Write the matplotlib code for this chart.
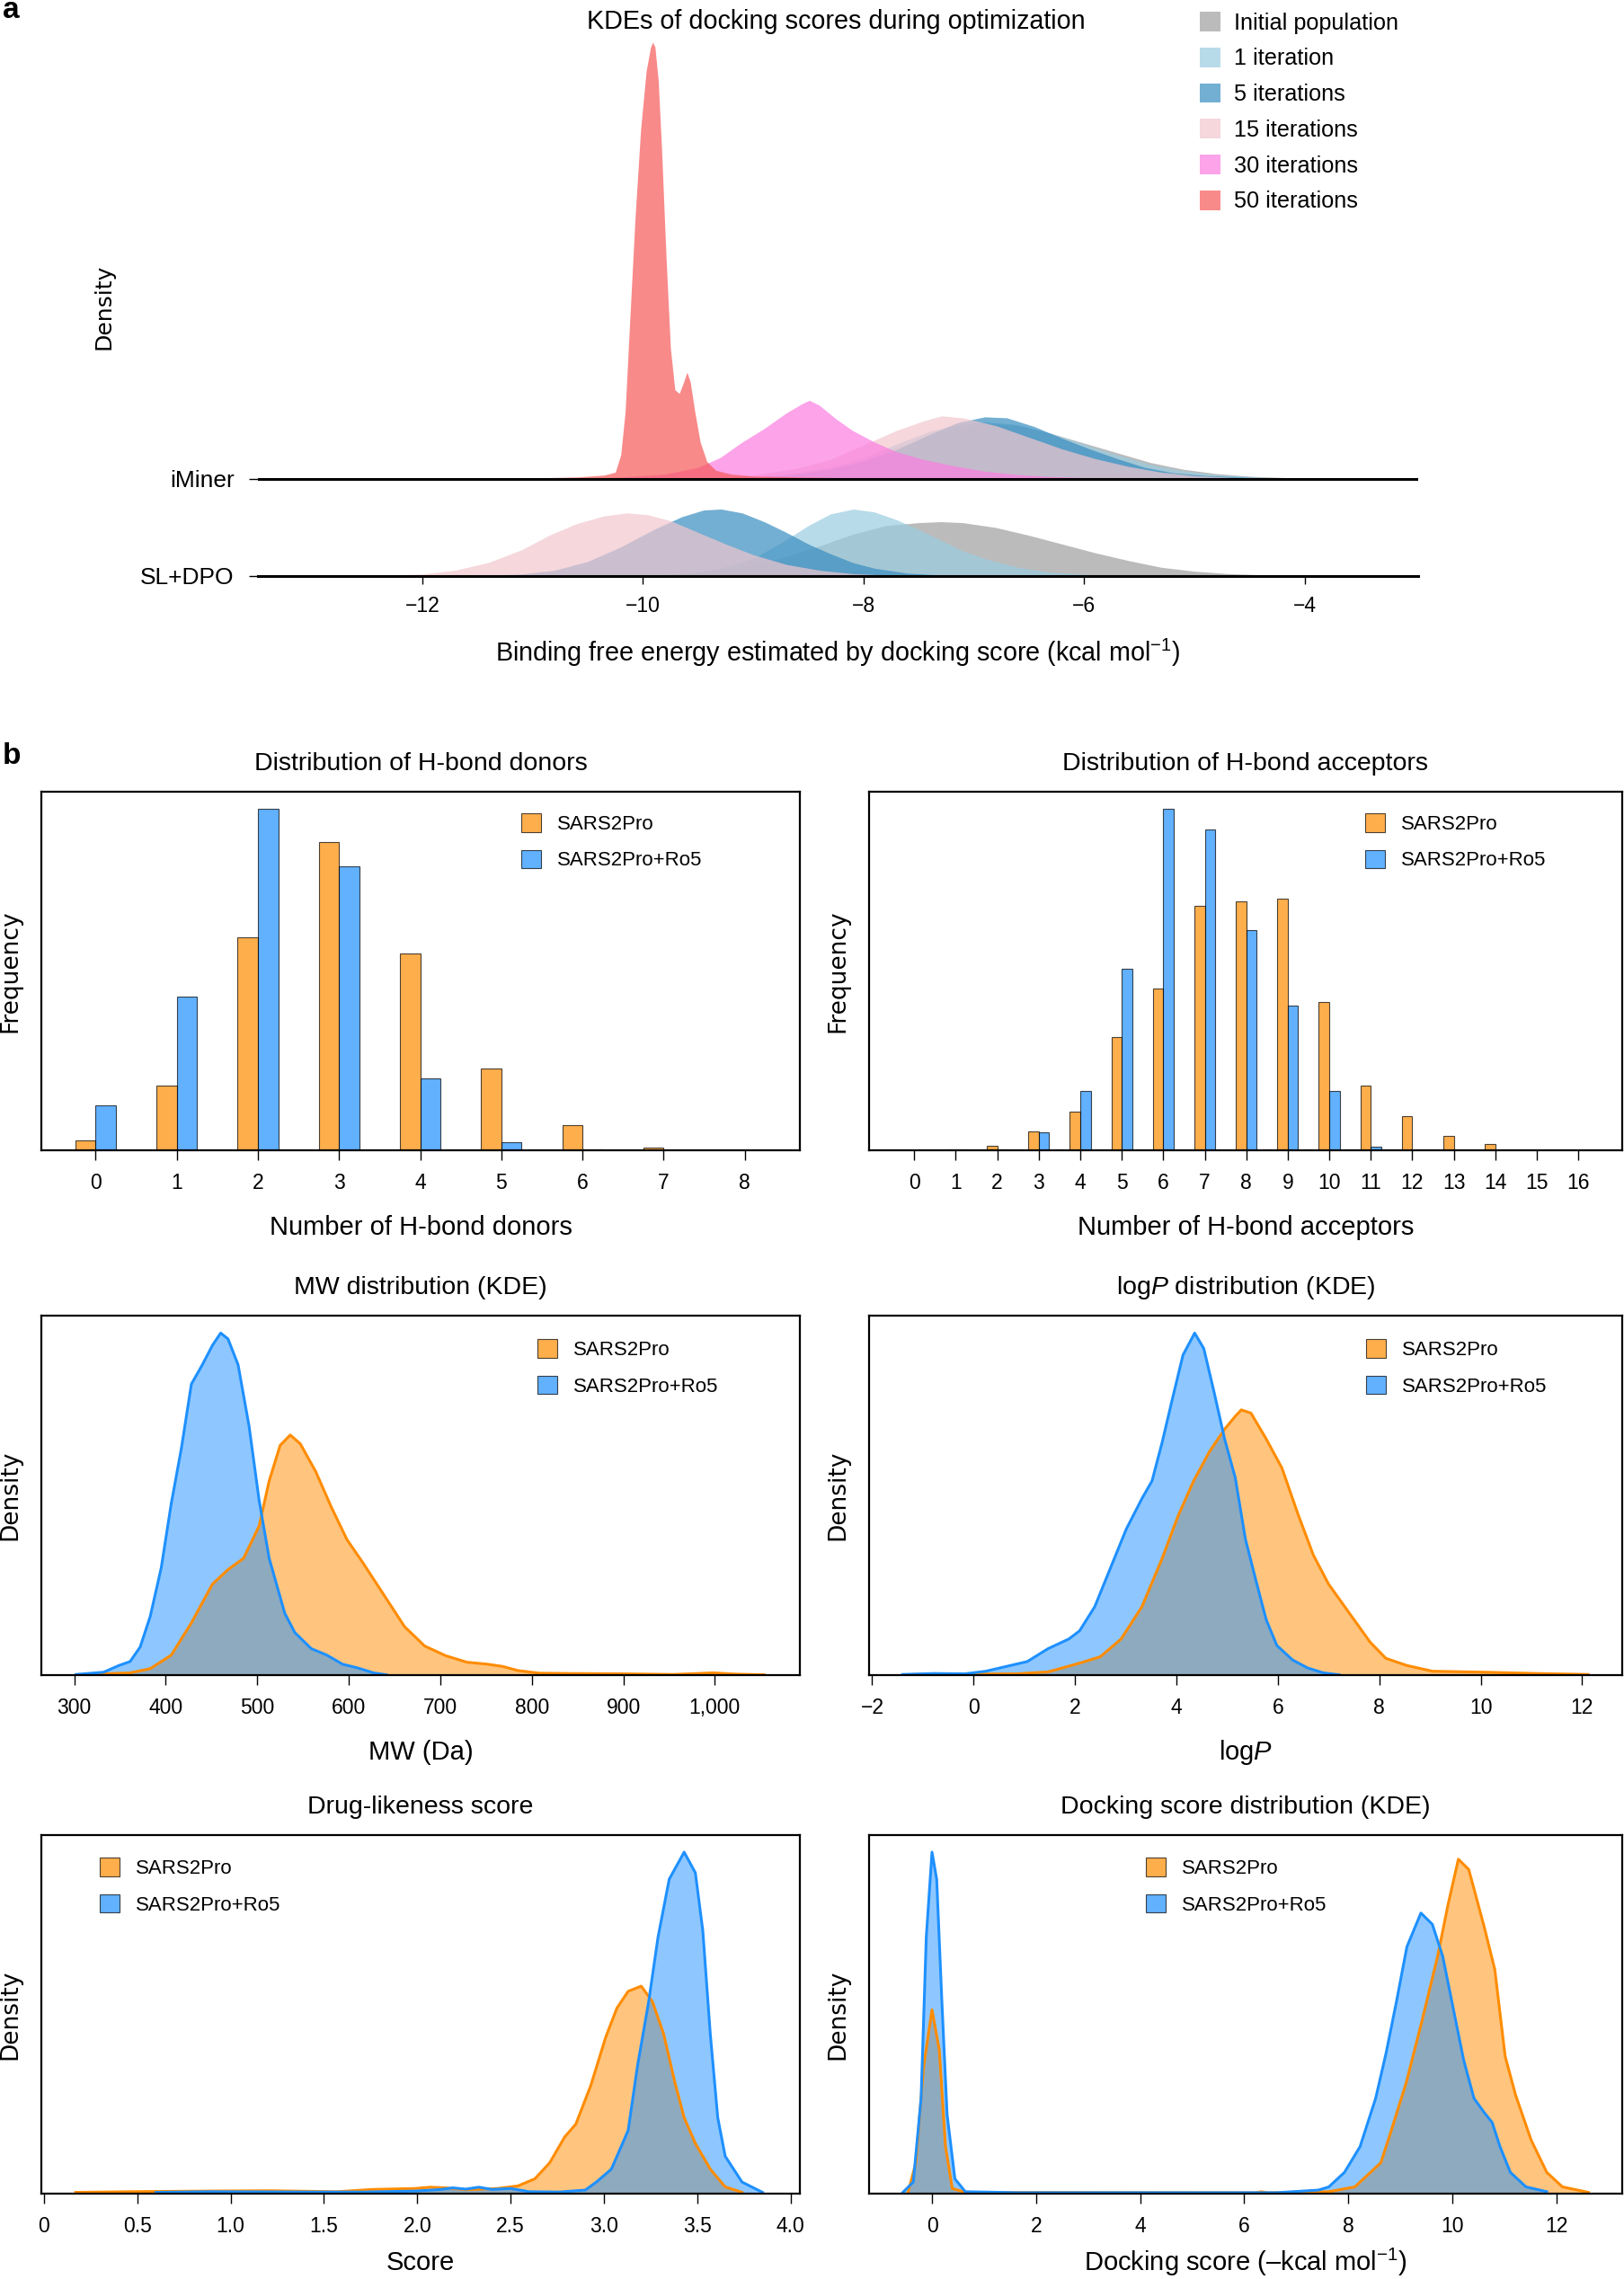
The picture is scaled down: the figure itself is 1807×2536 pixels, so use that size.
import matplotlib
matplotlib.use("Agg")
import matplotlib.pyplot as plt
from matplotlib.patches import Patch
import numpy as np

plt.rcParams['font.family'] = ['Liberation Sans', 'DejaVu Sans']
plt.rcParams['mathtext.fontset'] = 'custom'
plt.rcParams['mathtext.rm'] = 'Liberation Sans'
plt.rcParams['mathtext.it'] = 'Liberation Sans:italic'

# ---------------- panel a data (ridge heights, one row = 1 unit) ----------------
a_labels = ['Initial population', '1 iteration', '5 iterations',
            '15 iterations', '30 iterations', '50 iterations']
a_colors = ['#9e9e9e', '#9acde1', '#388dc0', '#f1c6ce', '#fc7de1', '#f65858']

# iMiner row
im_gray_x = [-9.2, -8.7, -8.3, -8.0, -7.7, -7.4, -7.1, -6.85, -6.6, -6.3, -6.0, -5.7, -5.4, -5.1, -4.8, -4.5, -4.1, -3.7]
im_gray_h = [0.0, 0.04, 0.1, 0.19, 0.32, 0.45, 0.54, 0.57, 0.55, 0.47, 0.37, 0.27, 0.17, 0.1, 0.055, 0.028, 0.01, 0.0]
im_lb_x = [-9.2, -8.7, -8.3, -8.0, -7.7, -7.4, -7.1, -6.9, -6.6, -6.3, -6.0, -5.7, -5.4, -5.1, -4.8, -4.4, -3.9]
im_lb_h = [0.0, 0.05, 0.12, 0.22, 0.36, 0.49, 0.57, 0.59, 0.56, 0.47, 0.36, 0.25, 0.15, 0.085, 0.045, 0.018, 0.0]
im_blue_x = [-9.2, -8.7, -8.3, -8.0, -7.7, -7.4, -7.15, -6.9, -6.7, -6.45, -6.2, -5.95, -5.7, -5.45, -5.2, -4.9, -4.5, -4.1, -3.7]
im_blue_h = [0.0, 0.04, 0.1, 0.18, 0.3, 0.46, 0.58, 0.64, 0.63, 0.54, 0.42, 0.31, 0.21, 0.12, 0.065, 0.035, 0.016, 0.006, 0.0]
im_pink_x = [-9.4, -9.0, -8.6, -8.3, -8.0, -7.7, -7.45, -7.29, -7.1, -6.8, -6.5, -6.2, -5.9, -5.6, -5.3, -5.0, -4.6, -4.0]
im_pink_h = [0.0, 0.04, 0.11, 0.2, 0.35, 0.5, 0.6, 0.65, 0.63, 0.55, 0.43, 0.31, 0.21, 0.13, 0.07, 0.035, 0.012, 0.0]
im_mag_x = [-10.8, -10.2, -9.8, -9.5, -9.3, -9.1, -8.9, -8.7, -8.55, -8.49, -8.4, -8.25, -8.1, -7.9, -7.7, -7.45, -7.2, -6.9, -6.6, -6.3, -5.9, -5.4]
im_mag_h = [0.0, 0.02, 0.05, 0.12, 0.22, 0.38, 0.52, 0.68, 0.78, 0.81, 0.76, 0.62, 0.5, 0.38, 0.28, 0.2, 0.14, 0.08, 0.045, 0.025, 0.01, 0.0]
im_red_x = [-11.6, -11.0, -10.6, -10.35, -10.25, -10.2, -10.16, -10.12, -10.07, -10.02, -9.97, -9.93, -9.91, -9.89,
            -9.86, -9.83, -9.79, -9.75, -9.71, -9.67, -9.63, -9.60, -9.57, -9.53, -9.48, -9.42, -9.34, -9.2, -9.0,
            -8.6, -8.0, -7.2]
im_red_h = [0.0, 0.01, 0.02, 0.04, 0.07, 0.25, 0.7, 1.6, 2.7, 3.6, 4.2, 4.45, 4.5, 4.45,
            4.1, 3.4, 2.3, 1.35, 0.92, 0.88, 1.0, 1.1, 1.0, 0.7, 0.38, 0.18, 0.09, 0.05, 0.03,
            0.02, 0.01, 0.0]

# SL+DPO row
sl_gray_x = [-10.2, -9.7, -9.3, -9.0, -8.7, -8.4, -8.1, -7.8, -7.5, -7.3, -7.1, -6.8, -6.5, -6.2, -5.9, -5.6, -5.3, -5.0, -4.7, -4.3, -3.9]
sl_gray_h = [0.0, 0.02, 0.06, 0.12, 0.2, 0.31, 0.43, 0.52, 0.55, 0.56, 0.55, 0.5, 0.42, 0.33, 0.24, 0.16, 0.09, 0.05, 0.025, 0.008, 0.0]
sl_lb_x = [-10.0, -9.6, -9.3, -9.0, -8.75, -8.5, -8.3, -8.09, -7.9, -7.7, -7.5, -7.3, -7.1, -6.9, -6.6, -6.3, -5.9, -5.4]
sl_lb_h = [0.0, 0.03, 0.08, 0.18, 0.34, 0.52, 0.64, 0.69, 0.66, 0.58, 0.48, 0.37, 0.26, 0.18, 0.09, 0.04, 0.01, 0.0]
sl_blue_x = [-11.6, -11.1, -10.8, -10.5, -10.2, -9.9, -9.65, -9.45, -9.29, -9.1, -8.9, -8.7, -8.5, -8.3, -8.1, -7.9, -7.6, -7.3, -6.9]
sl_blue_h = [0.0, 0.02, 0.06, 0.15, 0.3, 0.48, 0.61, 0.68, 0.69, 0.65, 0.56, 0.45, 0.33, 0.23, 0.14, 0.08, 0.03, 0.01, 0.0]
sl_pink_x = [-13.0, -12.5, -12.0, -11.7, -11.4, -11.1, -10.85, -10.6, -10.35, -10.14, -9.95, -9.75, -9.5, -9.25, -9.0, -8.7, -8.4, -8.1, -7.8, -7.4]
sl_pink_h = [0.0, 0.005, 0.02, 0.06, 0.14, 0.27, 0.42, 0.54, 0.62, 0.65, 0.63, 0.57, 0.45, 0.33, 0.22, 0.12, 0.06, 0.025, 0.01, 0.0]

# ---------------- panel b data ----------------
donor_k = list(range(0, 9))
donor_sars = [0.011, 0.072, 0.236, 0.341, 0.218, 0.091, 0.028, 0.0025, 0.0004]
donor_ro5 = [0.050, 0.170, 0.378, 0.314, 0.080, 0.009, 0.001, 0.0004, 0.0002]

acc_k = list(range(0, 17))
acc_sars = [0.0002, 0.0005, 0.0036, 0.0143, 0.0284, 0.0838, 0.120, 0.181, 0.184, 0.186, 0.110,
            0.0477, 0.0255, 0.0105, 0.0045, 0.0002, 0.0002]
acc_ro5 = [0.0, 0.0007, 0.0005, 0.0136, 0.0437, 0.1346, 0.253, 0.2375, 0.163, 0.1074, 0.0442,
           0.0029, 0.0001, 0.0, 0.0, 0.0, 0.0]

mw_ro5_x = [302, 332, 349, 361, 372, 383, 395, 406, 417, 428, 440, 451, 460, 468, 479, 491, 502, 513, 530,
            541, 559, 576, 593, 610, 627, 641]
mw_ro5_y = [0.002, 0.009, 0.030, 0.042, 0.087, 0.182, 0.332, 0.532, 0.702, 0.902, 0.962, 1.022, 1.060,
            1.042, 0.962, 0.772, 0.542, 0.362, 0.192, 0.132, 0.082, 0.062, 0.034, 0.022, 0.007, 0.001]
mw_sars_x = [302, 361, 383, 406, 428, 451, 468, 485, 502, 513, 525, 536, 547, 564, 581, 598, 615, 638, 661,
             683, 706, 729, 751, 768, 785, 808, 842, 899, 955, 998, 1023, 1054]
mw_sars_y = [0.001, 0.007, 0.020, 0.062, 0.162, 0.282, 0.327, 0.362, 0.462, 0.602, 0.712, 0.744, 0.717,
             0.630, 0.520, 0.420, 0.350, 0.250, 0.150, 0.090, 0.060, 0.040, 0.034, 0.027, 0.014, 0.006,
             0.005, 0.004, 0.002, 0.007, 0.003, 0.001]

logp_ro5_x = [-1.40, -0.78, -0.17, 0.24, 0.65, 1.06, 1.47, 1.88, 2.09, 2.39, 2.70, 3.01, 3.32, 3.52, 3.72,
              3.93, 4.13, 4.36, 4.54, 4.75, 4.95, 5.16, 5.36, 5.57, 5.77, 5.98, 6.29, 6.59, 6.90, 7.21]
logp_ro5_y = [0.002, 0.005, 0.004, 0.012, 0.027, 0.042, 0.082, 0.112, 0.137, 0.212, 0.332, 0.452, 0.547,
              0.602, 0.722, 0.862, 0.992, 1.060, 1.012, 0.872, 0.732, 0.612, 0.422, 0.292, 0.172, 0.092,
              0.047, 0.022, 0.007, 0.001]
logp_sars_x = [-1.19, 0.86, 1.47, 2.09, 2.50, 2.91, 3.32, 3.72, 4.03, 4.34, 4.65, 4.95, 5.16, 5.28, 5.47,
               5.77, 6.08, 6.39, 6.70, 7.00, 7.41, 7.82, 8.13, 8.54, 9.05, 10.07, 11.10, 12.12]
logp_sars_y = [0.002, 0.004, 0.010, 0.037, 0.057, 0.112, 0.212, 0.362, 0.492, 0.602, 0.692, 0.762, 0.802,
               0.822, 0.812, 0.732, 0.642, 0.502, 0.372, 0.282, 0.192, 0.102, 0.052, 0.030, 0.012, 0.009,
               0.005, 0.002]

drug_sars_x = [0.17, 0.46, 0.88, 1.21, 1.57, 1.76, 1.99, 2.07, 2.15, 2.26, 2.43, 2.54, 2.63, 2.71, 2.79,
               2.85, 2.93, 3.01, 3.07, 3.13, 3.20, 3.26, 3.32, 3.38, 3.43, 3.49, 3.57, 3.65, 3.74]
drug_sars_y = [0.004, 0.006, 0.008, 0.009, 0.006, 0.013, 0.016, 0.020, 0.018, 0.012, 0.016, 0.024, 0.046,
               0.096, 0.176, 0.216, 0.336, 0.486, 0.576, 0.628, 0.644, 0.596, 0.496, 0.346, 0.236, 0.156,
               0.076, 0.021, 0.004]
drug_ro5_x = [0.60, 0.88, 1.43, 1.71, 1.99, 2.13, 2.19, 2.26, 2.33, 2.40, 2.50, 2.60, 2.76, 2.90, 2.96,
              3.04, 3.13, 3.18, 3.24, 3.29, 3.35, 3.43, 3.49, 3.53, 3.57, 3.61, 3.65, 3.74, 3.85]
drug_ro5_y = [0.004, 0.006, 0.005, 0.005, 0.008, 0.013, 0.018, 0.014, 0.020, 0.013, 0.016, 0.006, 0.005,
              0.011, 0.036, 0.076, 0.196, 0.396, 0.596, 0.796, 0.976, 1.060, 0.996, 0.816, 0.496, 0.236,
              0.116, 0.036, 0.004]

dock_ro5_x = [-0.56, -0.36, -0.21, -0.11, 0.0, 0.09, 0.19, 0.29, 0.44, 0.64, 1.64, 6.63, 7.43, 7.63, 7.93,
              8.23, 8.53, 8.73, 8.93, 9.13, 9.40, 9.62, 9.82, 10.02, 10.22, 10.42, 10.62, 10.77, 10.92,
              11.12, 11.42, 11.82]
dock_ro5_y = [0.004, 0.036, 0.296, 0.796, 1.060, 0.976, 0.596, 0.246, 0.046, 0.006, 0.003, 0.003, 0.011,
              0.021, 0.066, 0.146, 0.296, 0.436, 0.596, 0.766, 0.871, 0.836, 0.736, 0.576, 0.416, 0.296,
              0.251, 0.221, 0.146, 0.066, 0.021, 0.006]
dock_sars_x = [-0.46, -0.31, -0.16, 0.0, 0.14, 0.26, 0.39, 0.64, 6.23, 6.33, 6.45, 7.63, 8.13, 8.63, 8.83,
               9.12, 9.42, 9.72, 9.92, 10.12, 10.32, 10.62, 10.82, 11.02, 11.22, 11.52, 11.82, 12.12, 12.62]
dock_sars_y = [0.004, 0.096, 0.396, 0.571, 0.446, 0.146, 0.016, 0.004, 0.003, 0.006, 0.003, 0.006, 0.021,
               0.096, 0.196, 0.346, 0.536, 0.736, 0.896, 1.038, 1.006, 0.826, 0.696, 0.426, 0.306, 0.166,
               0.066, 0.021, 0.004]

W, H = 1807, 2536
fig = plt.figure(figsize=(W / 100, H / 100), dpi=100)


def box(l, t, r, b):
    return [l / W, 1 - b / H, (r - l) / W, (b - t) / H]


# ---------------- panel a ----------------
ax = fig.add_axes(box(287, 30, 1578, 641))
sl_rows = [(sl_gray_x, sl_gray_h, a_colors[0]), (sl_lb_x, sl_lb_h, a_colors[1]),
           (sl_blue_x, sl_blue_h, a_colors[2]), (sl_pink_x, sl_pink_h, a_colors[3])]
for x, h, c in sl_rows:
    ax.fill_between(x, 0, h, color=c, alpha=0.7, lw=0)
im_rows = [(im_gray_x, im_gray_h, a_colors[0]), (im_lb_x, im_lb_h, a_colors[1]),
           (im_blue_x, im_blue_h, a_colors[2]), (im_pink_x, im_pink_h, a_colors[3]),
           (im_mag_x, im_mag_h, a_colors[4]), (im_red_x, im_red_h, a_colors[5])]
for x, h, c in im_rows:
    ax.fill_between(x, 1, 1 + np.array(h), color=c, alpha=0.7, lw=0)
ax.axhline(1, color='k', lw=2.2, zorder=5)
ax.set_xlim(-13.49, -2.97)
ax.set_ylim(0, 5.657)
for s in ['top', 'right', 'left']:
    ax.spines[s].set_visible(False)
ax.spines['bottom'].set_linewidth(2.2)
ax.set_yticks([0, 1])
ax.set_yticklabels(['SL+DPO', 'iMiner'], fontsize=19)
ax.tick_params(axis='y', length=7, width=1, pad=12)
ax.set_xticks([-12, -10, -8, -6, -4])
ax.tick_params(axis='x', length=6.5, width=1, labelsize=16.5, pad=9)
fig.text(930 / W, 1 - 24 / H, 'KDEs of docking scores during optimization', ha='center', va='center', fontsize=20.7)
fig.text(932 / W, 1 - 726 / H, 'Binding free energy estimated by docking score (kcal mol$^{-1}$)',
         ha='center', va='center', fontsize=20.7)
fig.text(116 / W, 1 - 341 / H, 'Density', rotation=90, ha='center', va='center', fontsize=18,
         family='DejaVu Sans')
a_handles = [Patch(facecolor=c, alpha=0.7, lw=0) for c in a_colors]
fig.legend(a_handles, a_labels, loc='upper left', bbox_to_anchor=(1335 / W, 1 - 13 / H), frameon=False,
           fontsize=18.2, handlelength=0.92, handleheight=0.95, handletextpad=0.6, labelspacing=0.6,
           borderpad=0, borderaxespad=0)

fig.text(3 / W, 1 - 12 / H, 'a', fontweight='bold', fontsize=24, va='center', ha='left')
fig.text(3 / W, 1 - 841 / H, 'b', fontweight='bold', fontsize=24, va='center', ha='left')

# ---------------- panel b ----------------
ORANGE = 'darkorange'
BLUE = 'dodgerblue'
names = ['SARS2Pro', 'SARS2Pro+Ro5']


def style_b(ax, title, xlabel, ylabel, wpx, xlab_off=86):
    for s in ax.spines.values():
        s.set_linewidth(1.6)
    ax.set_yticks([])
    ax.tick_params(axis='x', length=8, width=1, labelsize=16.5, pad=10)
    ax.text(0.5, 1 + 31 / 400, title, transform=ax.transAxes, ha='center', va='center', fontsize=20.5)
    ax.set_xlabel(xlabel, fontsize=21)
    ax.xaxis.set_label_coords(0.5, -xlab_off / 400)
    ax.xaxis.label.set_va('center')
    ax.set_ylabel(ylabel, family='DejaVu Sans', fontsize=19)
    ax.yaxis.set_label_coords(-35 / wpx, 0.5)
    ax.yaxis.label.set_va('center')


def legend_b(ax, xf, yf):
    hs = [Patch(facecolor=ORANGE, alpha=0.7, edgecolor='k', lw=0.8),
          Patch(facecolor=BLUE, alpha=0.7, edgecolor='k', lw=0.8)]
    ax.legend(hs, names, loc='upper left', bbox_to_anchor=(xf, yf), frameon=False, fontsize=16,
              handlelength=1.0, handleheight=1.05, handletextpad=0.8, labelspacing=0.8,
              borderpad=0, borderaxespad=0)


def kde(ax, xs, ys, xr, yr):
    ax.fill_between(xs, 0, ys, color=ORANGE, alpha=0.5, lw=0)
    ax.plot(xs, ys, color=ORANGE, lw=2.2)
    ax.fill_between(xr, 0, yr, color=BLUE, alpha=0.5, lw=0)
    ax.plot(xr, yr, color=BLUE, lw=2.2)


# donors
ax = fig.add_axes(box(46, 881, 890, 1280))
k = np.array(donor_k)
ax.bar(k - 0.125, donor_sars, width=0.25, color=ORANGE, alpha=0.7, edgecolor='k', lw=0.8)
ax.bar(k + 0.125, donor_ro5, width=0.25, color=BLUE, alpha=0.7, edgecolor='k', lw=0.8)
ax.set_xlim(-0.67, 8.68)
ax.set_ylim(0, 0.397)
ax.set_xticks(donor_k)
style_b(ax, 'Distribution of H-bond donors', 'Number of H-bond donors', 'Frequency', 844)
legend_b(ax, 0.633, 0.94)

# acceptors
ax = fig.add_axes(box(967, 881, 1805, 1280))
k = np.array(acc_k)
ax.bar(k - 0.125, acc_sars, width=0.25, color=ORANGE, alpha=0.7, edgecolor='k', lw=0.8)
ax.bar(k + 0.125, acc_ro5, width=0.25, color=BLUE, alpha=0.7, edgecolor='k', lw=0.8)
ax.set_xlim(-1.09, 17.06)
ax.set_ylim(0, 0.2654)
ax.set_xticks(acc_k)
style_b(ax, 'Distribution of H-bond acceptors', 'Number of H-bond acceptors', 'Frequency', 838)
legend_b(ax, 0.659, 0.94)

# MW
ax = fig.add_axes(box(46, 1464, 890, 1864))
kde(ax, mw_sars_x, mw_sars_y, mw_ro5_x, mw_ro5_y)
ax.set_xlim(264, 1093)
ax.set_ylim(0, 1.114)
ax.set_xticks([300, 400, 500, 600, 700, 800, 900, 1000])
ax.set_xticklabels(['300', '400', '500', '600', '700', '800', '900', '1,000'])
style_b(ax, 'MW distribution (KDE)', 'MW (Da)', 'Density', 844)
legend_b(ax, 0.654, 0.935)

# logP
ax = fig.add_axes(box(967, 1464, 1805, 1864))
kde(ax, logp_sars_x, logp_sars_y, logp_ro5_x, logp_ro5_y)
ax.set_xlim(-2.06, 12.79)
ax.set_ylim(0, 1.114)
ax.set_xticks([-2, 0, 2, 4, 6, 8, 10, 12])
style_b(ax, r'log$\it{P}$ distribution (KDE)', r'log$\it{P}$', 'Density', 838)
legend_b(ax, 0.66, 0.935)

# drug-likeness
ax = fig.add_axes(box(46, 2042, 890, 2441))
kde(ax, drug_sars_x, drug_sars_y, drug_ro5_x, drug_ro5_y)
ax.set_xlim(-0.014, 4.05)
ax.set_ylim(0, 1.113)
ax.set_xticks([0, 0.5, 1.0, 1.5, 2.0, 2.5, 3.0, 3.5, 4.0])
ax.set_xticklabels(['0', '0.5', '1.0', '1.5', '2.0', '2.5', '3.0', '3.5', '4.0'])
style_b(ax, 'Drug-likeness score', 'Score', 'Density', 844, xlab_off=77)
legend_b(ax, 0.077, 0.937)

# docking
ax = fig.add_axes(box(967, 2042, 1805, 2441))
kde(ax, dock_sars_x, dock_sars_y, dock_ro5_x, dock_ro5_y)
ax.set_xlim(-1.21, 13.27)
ax.set_ylim(0, 1.113)
ax.set_xticks([0, 2, 4, 6, 8, 10, 12])
style_b(ax, 'Docking score distribution (KDE)', 'Docking score (\u2013kcal mol$^{-1}$)', 'Density', 838,
        xlab_off=77)
legend_b(ax, 0.3675, 0.937)

fig.savefig('out.png', dpi=100)
